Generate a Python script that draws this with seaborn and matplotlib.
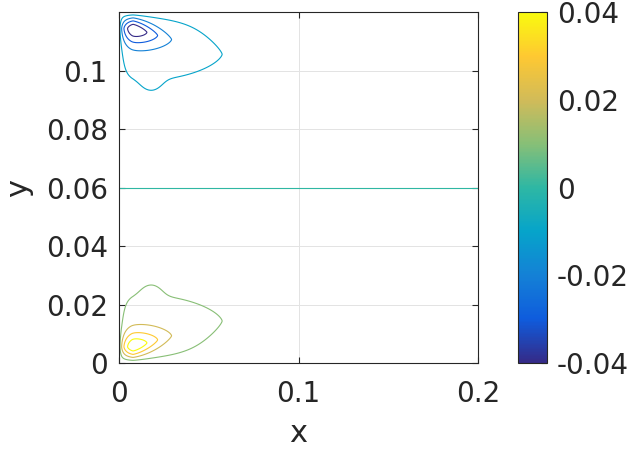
import numpy as np
import matplotlib
matplotlib.use("Agg")
import matplotlib.pyplot as plt
import seaborn as sns
from matplotlib.colors import LinearSegmentedColormap, Normalize
from matplotlib.cm import ScalarMappable

# ---- data: lobe parameters ----
lobe_center = [0.008, 0.0055]      # x, y of the positive peak
broad_amp = 0.025                  # broad (exponential) part
broad_len = 0.055
core_amp = 0.025                   # core (gaussian) part
core_len = 0.015
scale_x = [0.6, 1.0]               # left / right
scale_y = [0.26, 0.35]             # down / up
lobe_tilt = 0.18
lobe_power = 1.4
bump_center = [0.018, 0.023]
bump_amp = 0.003
bump_sigma = [0.006, 0.005]
wall_scale = 0.0018
y_top = 0.12
levels = [-0.04, -0.03, -0.02, -0.01, 0.0, 0.01, 0.02, 0.03, 0.04]
xticks = [0, 0.1, 0.2]
xticklabels = ["0", "0.1", "0.2"]
yticks = [0, 0.02, 0.04, 0.06, 0.08, 0.1]
yticklabels = ["0", "0.02", "0.04", "0.06", "0.08", "0.1"]
cticks = [-0.04, -0.02, 0, 0.02, 0.04]
cticklabels = ["-0.04", "-0.02", "0", "0.02", "0.04"]
parula_hex = ["#352A87", "#0F5CDD", "#1481D6", "#06A4CA", "#2EB7A4",
              "#87BF77", "#D1BB59", "#FEC832", "#F9FB0E"]

sns.set_theme(style="white")
plt.rcParams['font.family'] = ['DejaVu Sans']

parula = LinearSegmentedColormap.from_list("parula", parula_hex)
norm = Normalize(vmin=-0.04, vmax=0.04)

xg = np.linspace(1e-4, 0.2, 800)
yg = np.linspace(1e-4, y_top - 1e-4, 700)
X, Y = np.meshgrid(xg, yg)

def lobe(X, Y):
    dx = X - lobe_center[0]
    dxp = np.clip(dx, 0, None)
    dy = Y - lobe_center[1] - lobe_tilt * dxp
    sx = np.where(dx > 0, scale_x[1], scale_x[0])
    sy = np.where(dy > 0, scale_y[1], scale_y[0])
    p = lobe_power
    r = (np.abs(dx / sx) ** p + np.abs(dy / sy) ** p + 1e-12) ** (1 / p)
    h = broad_amp * np.exp(-r / broad_len) + core_amp * np.exp(-(r / core_len) ** 2)
    h += bump_amp * np.exp(-((X - bump_center[0]) / bump_sigma[0]) ** 2
                           - ((Y - bump_center[1]) / bump_sigma[1]) ** 2)
    return h

Z = lobe(X, Y) - lobe(X, y_top - Y)
Z *= (1 - np.exp(-X / wall_scale)) * (1 - np.exp(-Y / wall_scale)) * (1 - np.exp(-(y_top - Y) / wall_scale))

fig = plt.figure(figsize=(6.42, 4.5), dpi=100)
ax = fig.add_axes([0.185, 0.193, 0.560, 0.780])
cax = fig.add_axes([0.807, 0.193, 0.045, 0.780])

ax.contour(X, Y, Z, levels=levels, cmap=parula, norm=norm, linewidths=0.8)

ax.set_xlim(0, 0.2)
ax.set_ylim(0, 0.12)
ax.set_xticks(xticks)
ax.set_xticklabels(xticklabels)
ax.set_yticks(yticks)
ax.set_yticklabels(yticklabels)
ax.grid(True, color="#e3e3e3", linewidth=0.7)
ax.set_axisbelow(True)
for s in ax.spines.values():
    s.set_color("#262626")
    s.set_linewidth(0.8)
    s.set_visible(True)
ax.tick_params(direction="in", length=4, width=0.8, colors="#262626",
               labelsize=20, top=True, right=True, bottom=True, left=True,
               labeltop=False, labelright=False)
ax.tick_params(axis="x", pad=12)
ax.tick_params(axis="y", pad=8)
ax.set_xlabel("x", fontsize=22, color="#262626", labelpad=8)
ax.set_ylabel("y", fontsize=22, color="#262626", labelpad=9)

cb = fig.colorbar(ScalarMappable(norm=norm, cmap=parula), cax=cax)
cb.set_ticks(cticks)
cb.set_ticklabels(cticklabels)
cb.outline.set_edgecolor("#262626")
cb.outline.set_linewidth(0.8)
cax.tick_params(direction="in", length=4, width=0.8, colors="#262626",
                labelsize=20, pad=7, right=True, left=False)

fig.savefig("out.png", dpi=100, facecolor="white")
